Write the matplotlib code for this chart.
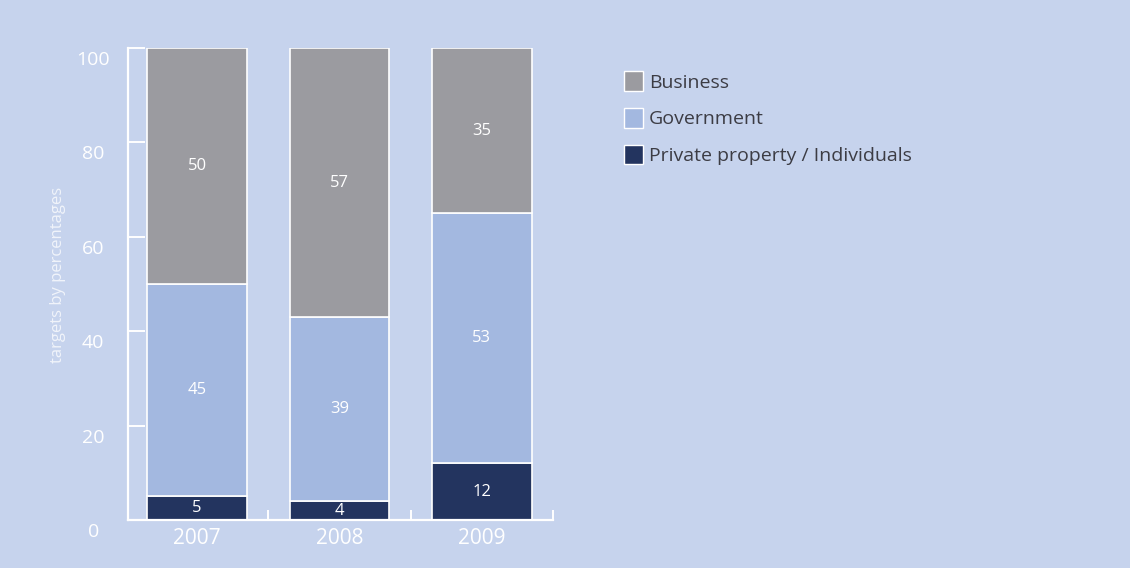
import matplotlib.pyplot as plt
import matplotlib.transforms as mtransforms
from matplotlib.patches import Patch
import numpy as np

years = ['2007', '2008', '2009']
private = [5, 4, 12]
government = [45, 39, 53]
business = [50, 57, 35]

bg = '#c6d3ed'
c_business = '#9b9ba0'
c_government = '#a3b8e0'
c_private = '#23345f'

plt.rcParams['font.family'] = ['Open Sans', 'DejaVu Sans']

fig = plt.figure(figsize=(11.3, 5.68), dpi=100, facecolor=bg)
ax = fig.add_axes([128/1130, 48/568, 425/1130, 472/568])
ax.set_facecolor(bg)

x = np.arange(len(years))
w = 0.7
bottoms = np.zeros(len(years))
for vals, col in [(private, c_private), (government, c_government), (business, c_business)]:
    ax.bar(x, vals, w, bottom=bottoms, color=col, edgecolor='white', linewidth=1.2)
    for xi, b, v in zip(x, bottoms, vals):
        ax.text(xi, b + v / 2, str(v), ha='center', va='center', color='white', fontsize=12)
    bottoms += vals

ax.set_xlim(-0.485, 2.5)
ax.set_ylim(0, 100)

for s in ['top', 'right']:
    ax.spines[s].set_visible(False)
for s in ['left', 'bottom']:
    ax.spines[s].set_color('white')
    ax.spines[s].set_linewidth(1.6)

ax.set_yticks([0, 20, 40, 60, 80, 100])
ax.tick_params(axis='y', direction='in', length=12, width=1.4, color='white',
               labelcolor='white', labelsize=14, pad=25)
for lab in ax.get_yticklabels():
    lab.set_horizontalalignment('center')
    lab.set_transform(lab.get_transform() + mtransforms.ScaledTranslation(0, -0.1, fig.dpi_scale_trans))

ax.set_xticks(x, years)
ax.set_xticks([0.5, 1.5, 2.5], minor=True)
ax.tick_params(axis='x', which='major', length=0, labelcolor='white', labelsize=15, pad=6)
ax.tick_params(axis='x', which='minor', direction='in', length=7, width=1.4, color='white')

ax.set_ylabel('targets by percentages', color='white', alpha=0.75, fontsize=12)
ax.yaxis.set_label_coords(-62/425, 0.52)

handles = [Patch(facecolor=c_business, edgecolor='white', label='Business'),
           Patch(facecolor=c_government, edgecolor='white', label='Government'),
           Patch(facecolor=c_private, edgecolor='white', label='Private property / Individuals')]
fig.legend(handles=handles, loc='upper left', bbox_to_anchor=(606/1130, 1 - 54/568),
           frameon=False, fontsize=14, labelcolor='#3c3c44', handlelength=1.0,
           handleheight=1.15, handletextpad=0.3, labelspacing=0.85)

fig.savefig('out.png', dpi=100, facecolor=bg)
